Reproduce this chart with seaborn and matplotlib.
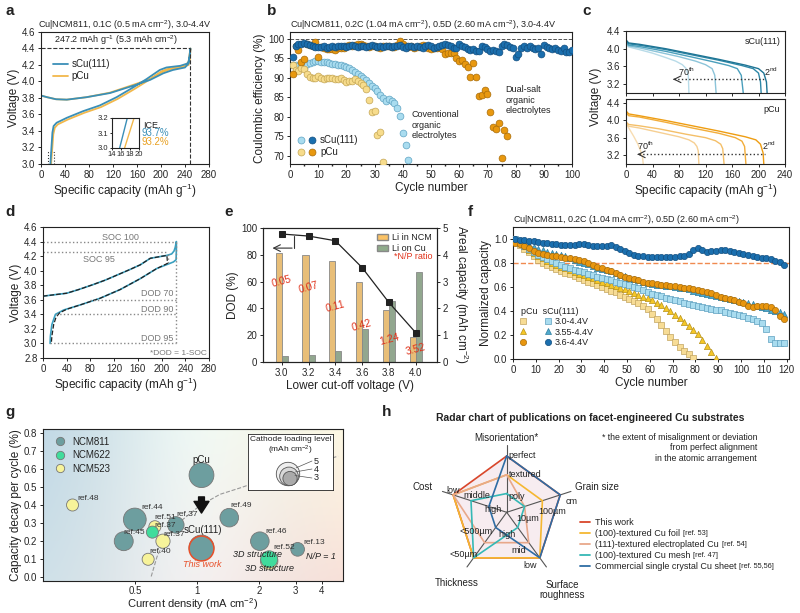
import numpy as np
import pandas as pd
import seaborn as sns
import matplotlib.pyplot as plt
from matplotlib.lines import Line2D
from matplotlib.patches import Patch, Rectangle, Circle
from matplotlib.legend_handler import HandlerTuple

# ---------------- data ----------------
# a: first cycle voltage profile
a_chg_cap = [0, 10, 25, 43, 76, 115, 154, 182, 204, 220, 240, 246, 249]
a_chg_v_s = [3.83, 3.81, 3.785, 3.78, 3.81, 3.86, 3.95, 4.02, 4.10, 4.14, 4.17, 4.22, 4.40]
a_chg_v_p = [3.83, 3.81, 3.785, 3.78, 3.81, 3.865, 3.96, 4.03, 4.12, 4.16, 4.19, 4.24, 4.40]
a_dis_cap_s = [249, 248, 245, 232, 209, 198, 176, 154, 126, 98, 70, 43, 26, 21, 19, 17.4, 15.7]
a_dis_cap_p = [249, 248.5, 246, 233, 210, 200, 178, 156, 128, 100, 72, 45, 28, 23, 20.5, 18.9, 16.8]
a_dis_v_s = [4.40, 4.30, 4.22, 4.19, 4.17, 4.14, 4.03, 3.93, 3.81, 3.71, 3.64, 3.56, 3.50, 3.46, 3.38, 3.20, 3.00]
a_dis_v_p = [4.40, 4.28, 4.20, 4.17, 4.15, 4.12, 4.01, 3.91, 3.79, 3.69, 3.62, 3.54, 3.48, 3.44, 3.36, 3.20, 3.00]
a_in_cap_s = [15.7, 17.4]
a_in_cap_p = [16.8, 18.9]
a_in_v = [3.0, 3.2]

# b: coulombic efficiency
b_conv_s = [93.4, 93.3, 93.1, 92.9, 92.6, 93.6, 93.9, 94.1, 94.3, 94.3, 94.2, 94.1, 94.0, 93.9,
            93.7, 93.5, 93.4, 93.2, 93.0, 92.8, 92.5, 92.1, 91.6, 91.0, 90.6, 90.0, 89.4, 88.6,
            87.9, 87.5, 86.6, 85.5, 84.9, 84.2, 84.6, 84.0, 83.6, 82.3, 80.3, 75.8, 72.7, 69.0]
b_conv_p = [93.3, 92.0, 91.8, 92.5, 92.2, 91.0, 90.3, 90.0, 90.0, 90.6, 90.0, 89.8, 89.9, 90.0,
            89.9, 89.7, 89.8, 90.0, 89.6, 89.0, 89.1, 89.3, 89.7, 89.1, 88.7, 88.3, 87.2, 84.4,
            81.2, 81.4, 75.3, 76.2, 68.3]
b_dual_s = [95.3, 98.3, 98.6, 98.8, 98.9, 98.7, 98.5, 98.2, 98.0, 97.9, 98.0, 98.1, 97.8, 98.0,
            98.2, 97.9, 98.1, 98.3, 98.2, 98.0, 98.2, 98.4, 98.1, 98.0, 98.3, 98.1, 97.9, 98.2,
            98.4, 98.1, 98.0, 98.2, 97.9, 98.1, 98.3, 98.0, 98.2, 98.1, 98.5, 98.0, 97.6, 98.1,
            98.3, 98.0, 98.2, 98.0, 97.8, 98.2, 98.4, 98.1, 97.7, 97.9, 98.2, 98.5, 98.6, 98.4,
            98.3, 97.8, 97.6, 98.7, 98.3, 97.9, 97.5, 97.1, 97.4, 96.8, 97.0, 98.2, 98.0, 97.5,
            97.0, 97.2, 97.0, 96.6, 98.2, 98.6, 98.4, 98.0, 97.8, 95.3, 96.1, 97.6, 98.2, 97.7,
            98.3, 97.6, 97.4, 97.7, 96.2, 98.5, 97.9, 97.6, 97.4, 97.8, 97.3, 96.9, 97.8, 96.7,
            96.6, 97.2]
b_dual_p = [91.0, 98.3, 97.3, 94.2, 94.8, 98.7, 98.5, 98.2, 99.3, 95.5, 98.0, 97.6, 97.5, 97.4,
            97.5, 97.3, 97.6, 97.8, 97.6, 98.1, 98.4, 98.3, 98.5, 98.7, 98.6, 98.4, 98.2, 98.0,
            98.3, 98.1, 98.0, 97.8, 98.2, 98.3, 98.1, 97.9, 98.0, 98.4, 99.4, 98.6, 98.2, 98.0,
            98.3, 97.8, 97.9, 98.2, 98.4, 98.1, 97.6, 97.4, 97.8, 97.6, 98.0, 97.5, 96.2, 96.4,
            96.5, 96.3, 95.2, 94.3, 94.7, 93.5, 92.8, 90.2, 93.8, 90.3, 85.3, 85.7, 87.0, 86.0,
            81.2, 77.5, 77.0, 78.5, 69.5, 76.7, 75.1]

# c: discharge curves, 2nd -> 70th cycle
c_s_cap = [[0, 4, 20, 60, 100, 140, 180, 200, 208, 212, 213],
           [0, 4, 20, 60, 100, 140, 175, 192, 200, 203, 204],
           [0, 4, 20, 60, 100, 130, 155, 168, 174, 177],
           [0, 4, 20, 50, 80, 105, 120, 130, 134, 136],
           [0, 4, 20, 40, 60, 75, 85, 91, 94, 95]]
c_s_v = [[4.20, 4.13, 4.10, 4.00, 3.88, 3.76, 3.63, 3.55, 3.45, 3.25, 3.0],
         [4.18, 4.11, 4.08, 3.98, 3.86, 3.74, 3.62, 3.55, 3.45, 3.25, 3.0],
         [4.15, 4.08, 4.05, 3.94, 3.81, 3.71, 3.62, 3.55, 3.40, 3.0],
         [4.12, 4.06, 4.02, 3.92, 3.82, 3.72, 3.64, 3.55, 3.40, 3.0],
         [4.10, 4.04, 3.98, 3.90, 3.80, 3.72, 3.64, 3.55, 3.40, 3.0]]
c_p_cap = [[0, 4, 20, 60, 100, 140, 180, 196, 203, 207, 208],
           [0, 4, 20, 60, 100, 140, 165, 175, 179, 181],
           [0, 4, 20, 50, 90, 120, 135, 143, 146, 148],
           [0, 4, 20, 50, 80, 95, 103, 107, 109, 110],
           [0, 5, 12, 18, 22, 25, 26]]
c_p_v = [[4.21, 4.14, 4.10, 3.99, 3.87, 3.75, 3.62, 3.55, 3.45, 3.25, 3.0],
         [4.17, 4.10, 4.07, 3.95, 3.82, 3.70, 3.60, 3.52, 3.40, 3.0],
         [3.96, 3.90, 3.87, 3.80, 3.68, 3.60, 3.53, 3.45, 3.35, 3.0],
         [3.92, 3.86, 3.82, 3.72, 3.62, 3.55, 3.48, 3.40, 3.30, 3.0],
         [3.92, 3.80, 3.62, 3.45, 3.30, 3.15, 3.0]]

# d: SOC / DOD illustration
d_cap = [0, 20, 40, 60, 85, 105, 125, 145, 164, 181, 195, 209, 217, 221, 223, 225, 225, 224.5,
         220, 214, 192, 164, 130, 96, 63, 35, 21, 15, 12.5, 12]
d_volt = [3.65, 3.67, 3.69, 3.74, 3.81, 3.87, 3.94, 4.01, 4.08, 4.17, 4.19, 4.21, 4.23, 4.27,
          4.32, 4.40, 4.30, 4.15, 4.12, 4.10, 4.03, 3.89, 3.74, 3.62, 3.53, 3.46, 3.40, 3.26,
          3.10, 3.00]
d_dash_cap = [0, 20, 40, 60, 85, 105, 125, 145, 164, 181, 195, 209, 210, 205, 192, 164, 130, 96,
              63, 40, 28, 22, 18, 15, 14]
d_dash_v = [3.65, 3.67, 3.69, 3.74, 3.81, 3.87, 3.94, 4.01, 4.08, 4.17, 4.19, 4.21, 4.10, 4.08,
            4.03, 3.89, 3.74, 3.62, 3.53, 3.47, 3.42, 3.36, 3.26, 3.10, 3.00]

# e: lower cut-off voltage
e_volts = ['3.0', '3.2', '3.4', '3.6', '3.8', '4.0']
e_li_ncm = [4.05, 4.00, 3.77, 3.00, 1.93, 0.92]
e_li_cu = [0.22, 0.27, 0.40, 1.22, 2.28, 3.37]
e_dod = [95.5, 94.0, 90.5, 70.5, 44.5, 22.0]
e_np = ['0.05', '0.07', '0.11', '0.42', '1.24', '3.52']
e_np_y = [60, 55.5, 41, 27.5, 17, 9]

# f: cycling at different voltage windows (every other cycle)
f_s36 = [1.00, 0.995, 0.99, 0.985, 0.98, 0.975, 0.97, 0.965, 0.96, 0.955, 0.952, 0.95, 0.948,
         0.947, 0.955, 0.96, 0.95, 0.94, 0.938, 0.94, 0.945, 0.952, 0.935, 0.915, 0.90, 0.885,
         0.87, 0.86, 0.855, 0.852, 0.85, 0.85, 0.848, 0.85, 0.852, 0.85, 0.855, 0.86, 0.875,
         0.905, 0.925, 0.905, 0.895, 0.90, 0.902, 0.905, 0.905, 0.90, 0.892, 0.882, 0.872,
         0.865, 0.86, 0.852, 0.845, 0.838, 0.83, 0.82, 0.81, 0.785]
f_p36 = [0.97, 0.955, 0.94, 0.925, 0.90, 0.885, 0.875, 0.87, 0.86, 0.855, 0.85, 0.845, 0.84,
         0.835, 0.825, 0.815, 0.80, 0.785, 0.77, 0.755, 0.745, 0.73, 0.715, 0.70, 0.685, 0.675,
         0.665, 0.655, 0.645, 0.635, 0.63, 0.625, 0.62, 0.615, 0.61, 0.605, 0.60, 0.595, 0.59,
         0.585, 0.575, 0.565, 0.555, 0.55, 0.535, 0.52, 0.51, 0.50, 0.49, 0.475, 0.465, 0.44,
         0.43, 0.44, 0.445, 0.44, 0.43, 0.41, 0.36, 0.33]
f_s355 = [1.00, 0.98, 0.965, 0.95, 0.935, 0.92, 0.905, 0.895, 0.885, 0.875, 0.865, 0.855, 0.84,
          0.825, 0.81, 0.80, 0.79, 0.775, 0.76, 0.75, 0.74, 0.73, 0.715, 0.70, 0.69, 0.675,
          0.665, 0.655, 0.645, 0.635, 0.625, 0.62, 0.615, 0.61, 0.605, 0.60, 0.595, 0.59, 0.58,
          0.57, 0.56, 0.55, 0.54, 0.535, 0.525, 0.515, 0.505, 0.50, 0.49, 0.485, 0.475, 0.465,
          0.455, 0.445, 0.435, 0.425, 0.41, 0.40, 0.39, 0.375]
f_s30 = [1.00, 0.97, 0.945, 0.92, 0.895, 0.87, 0.85, 0.83, 0.815, 0.80, 0.785, 0.77, 0.76,
         0.745, 0.735, 0.725, 0.71, 0.70, 0.685, 0.675, 0.665, 0.655, 0.645, 0.635, 0.625,
         0.615, 0.60, 0.59, 0.575, 0.56, 0.545, 0.535, 0.525, 0.51, 0.50, 0.49, 0.48, 0.47,
         0.46, 0.45, 0.44, 0.435, 0.425, 0.42, 0.41, 0.405, 0.395, 0.385, 0.375, 0.365, 0.355,
         0.345, 0.335, 0.32, 0.30, 0.25, 0.17, 0.13, 0.13, 0.13]
f_p355 = [0.99, 0.965, 0.94, 0.91, 0.885, 0.86, 0.84, 0.82, 0.80, 0.785, 0.77, 0.755, 0.74,
          0.725, 0.71, 0.70, 0.685, 0.675, 0.66, 0.645, 0.635, 0.62, 0.605, 0.59, 0.58, 0.565,
          0.55, 0.535, 0.52, 0.505, 0.49, 0.47, 0.45, 0.425, 0.40, 0.37, 0.34, 0.31, 0.275,
          0.24, 0.205, 0.16, 0.11, 0.06, 0.01]
f_p30 = [0.98, 0.95, 0.92, 0.89, 0.855, 0.825, 0.80, 0.78, 0.765, 0.75, 0.735, 0.72, 0.705,
         0.69, 0.675, 0.66, 0.645, 0.63, 0.615, 0.60, 0.585, 0.57, 0.555, 0.535, 0.52, 0.50,
         0.485, 0.465, 0.445, 0.42, 0.375, 0.33, 0.28, 0.23, 0.18, 0.14, 0.10, 0.07, 0.04, 0.01]

# g: literature comparison
g_label = ['ref.48', 'ref.44', 'ref.45', 'ref.51', 'ref.37a', 'ref.37b', 'ref.37c', 'ref.40',
           'pCu', 'sCu(111)', 'ref.49', 'ref.46', 'ref.52a', 'ref.52b', 'ref.13']
g_cathode = ['NCM523', 'NCM811', 'NCM811', 'NCM523', 'NCM622', 'NCM523', 'NCM811', 'NCM523',
             'NCM811', 'NCM811', 'NCM811', 'NCM811', 'NCM523', 'NCM622', 'NCM811']
g_current = [0.25, 0.50, 0.442, 0.625, 0.608, 0.684, 0.789, 0.58, 1.05, 1.05, 1.43, 2.01, 2.23,
             2.23, 3.06]
g_decay = [0.40, 0.32, 0.20, 0.28, 0.25, 0.20, 0.29, 0.10, 0.565, 0.165, 0.33, 0.20, 0.09, 0.10,
           0.155]
g_loading = [2.0, 4.6, 3.5, 2.0, 2.0, 2.4, 2.9, 2.0, 5.3, 5.3, 3.4, 3.4, 3.1, 3.0, 2.3]
g_trend_x = [0.60, 0.64, 0.71, 0.84, 1.03, 1.29, 1.62, 2.5, 4.8]
g_trend_y = [0.005, 0.114, 0.223, 0.314, 0.396, 0.459, 0.495, 0.57, 0.67]

# h: radar chart
h_axes = ['Misorientation*', 'Grain size', 'Surface\nroughness', 'Thickness', 'Cost']
h_series = ['This work', '(100)-textured Cu foil', '(111)-textured electroplated Cu',
            '(100)-textured Cu mesh', 'Commercial single crystal Cu sheet']
h_refs = ['', '[ref. 53]', '[ref. 54]', '[ref. 47]', '[ref. 55,56]']
h_levels = [[3, 3, 3, 3, 3], [2, 2, 3, 3, 3], [2, 1, 2, 2, 3], [1, 1, 1, 3, 2], [3, 3, 3, 1, 1]]
h_ticklabels = [['poly', 'textured', 'perfect'], ['10µm', '100µm', 'cm'],
                ['high', 'mid', 'low'], ['', '<500µm', '<50µm'], ['high', 'middle', 'low']]

# ---------------- style ----------------
sns.set_theme(style='ticks')
plt.rcParams['font.family'] = ['Liberation Sans', 'DejaVu Sans']
plt.rcParams.update({
    'mathtext.default': 'regular', 'axes.linewidth': 0.8, 'axes.edgecolor': '#222222',
    'xtick.labelsize': 7, 'ytick.labelsize': 7, 'axes.labelsize': 8.5,
    'xtick.major.size': 2.5, 'ytick.major.size': 2.5, 'xtick.minor.size': 1.5,
    'ytick.minor.size': 1.5, 'xtick.major.width': 0.7, 'ytick.major.width': 0.7,
    'xtick.major.pad': 1.5, 'ytick.major.pad': 1.5, 'axes.labelpad': 1.5,
    'text.color': '#222222', 'axes.labelcolor': '#222222',
})

W, H = 800, 613
fig = plt.figure(figsize=(8, 6.13), dpi=100)


def fax(l, t, r, b, **kw):
    return fig.add_axes([l / W, 1 - b / H, (r - l) / W, (b - t) / H], **kw)


def ftext(x, y, s, **kw):
    return fig.text(x / W, 1 - y / H, s, **kw)


def loop(x, y, ax, **kw):
    # ordered curve, no aggregation over repeated x
    sns.lineplot(x=x, y=y, sort=False, estimator=None, ax=ax, **kw)


for lab, x, y in [('a', 5, 11), ('b', 267, 11), ('c', 582, 11), ('d', 5, 212),
                  ('e', 224, 212), ('f', 468, 212), ('g', 5, 412), ('h', 382, 412)]:
    ftext(x, y, lab, fontsize=11, weight='bold', va='center')

BLUE, ORANGE = '#3a8fb7', '#f2b84b'

# ---------------- a ----------------
ax = fax(41, 32, 209, 164)
loop(a_chg_cap + a_dis_cap_p, a_chg_v_p + a_dis_v_p, ax, color=ORANGE, lw=1.3, label='pCu')
loop(a_chg_cap + a_dis_cap_s, a_chg_v_s + a_dis_v_s, ax, color=BLUE, lw=1.3, label='sCu(111)')
ax.plot([0, 249], [4.4, 4.4], ls='--', color='#333', lw=0.8)
ax.plot([249, 249], [3.0, 4.4], ls='--', color='#333', lw=0.8)
ax.text(125, 4.47, '247.2 mAh g$^{-1}$ (5.3 mAh cm$^{-2}$)', fontsize=6.5, ha='center')
ax.add_patch(Rectangle((12, 3.0), 9, 0.15, fill=False, ls=':', lw=0.8, ec='#333'))
ax.set(xlim=(0, 280), ylim=(3.0, 4.6), xticks=range(0, 281, 40),
       xlabel='Specific capacity (mAh g$^{-1}$)', ylabel='Voltage (V)')
ax.set_yticks(np.arange(3.0, 4.61, 0.2))
ax.set_title('Cu|NCM811, 0.1C (0.5 mA cm$^{-2}$), 3.0-4.4V', fontsize=6.5, pad=3)
hnd, lbl = ax.get_legend_handles_labels()
ax.legend(hnd[::-1], lbl[::-1], loc='upper left', bbox_to_anchor=(0.02, 0.86), frameon=False,
          fontsize=7, handlelength=1.5, handletextpad=0.4, labelspacing=0.2)
ax.text(170, 3.47, 'ICE.', fontsize=6.5, va='center')
ax.text(167, 3.375, '93.7%', fontsize=7, color=BLUE, va='center')
ax.text(167, 3.27, '93.2%', fontsize=7, color='#e8a020', va='center')

axi = fax(112, 118, 139, 148)
sns.lineplot(x=a_in_cap_s, y=a_in_v, color=BLUE, lw=1, ax=axi)
sns.lineplot(x=a_in_cap_p, y=a_in_v, color=ORANGE, lw=1, ax=axi)
axi.set(xlim=(14, 20), ylim=(3.0, 3.2), xticks=[14, 16, 18, 20], yticks=[3.0, 3.1, 3.2])
axi.tick_params(labelsize=5.5, length=1.5, pad=1)
axi.yaxis.set_major_formatter('{x:.1f}')

# ---------------- b ----------------
ax = fax(290, 32, 572, 164)
ax.axhline(100, ls='--', color='#555', lw=0.7)
ser_b = [(b_conv_s, '#a9dcef', '#5fa3c3'), (b_conv_p, '#f7dc8c', '#c4a655'),
         (b_dual_p, '#e8980f', '#a86c0a'), (b_dual_s, '#1b6fae', '#134f80')]
for vals, fc, ec in ser_b:
    sns.scatterplot(x=range(1, len(vals) + 1), y=vals, color=fc, edgecolor=ec, s=24,
                    linewidth=0.5, ax=ax, zorder=3)
ax.set(xlim=(0, 100), ylim=(67.9, 101.8), xticks=range(0, 101, 10), yticks=range(70, 101, 5),
       xlabel='Cycle number', ylabel='Coulombic efficiency (%)')
ax.set_xticks(range(5, 100, 10), minor=True)
ax.set_title('Cu|NCM811, 0.2C (1.04 mA cm$^{-2}$), 0.5D (2.60 mA cm$^{-2}$), 3.0-4.4V',
             fontsize=6.5, pad=3, loc='left')
ax.text(43, 81.8, 'Coventional\norganic\nelectrolytes', fontsize=6.5, va='top', linespacing=1.25)
ax.text(76.5, 88.2, 'Dual-salt\norganic\nelectrolytes', fontsize=6.5, va='top', linespacing=1.25)
mk = dict(marker='o', ls='', markersize=5, markeredgewidth=0.5)
hs = (Line2D([], [], mfc='#a9dcef', mec='#5fa3c3', **mk), Line2D([], [], mfc='#1b6fae', mec='#134f80', **mk))
hp = (Line2D([], [], mfc='#f7dc8c', mec='#c4a655', **mk), Line2D([], [], mfc='#e8980f', mec='#a86c0a', **mk))
ax.legend([hs, hp], ['sCu(111)', 'pCu'], handler_map={tuple: HandlerTuple(ndivide=None, pad=0.2)},
          loc='lower left', frameon=False, fontsize=7, handlelength=2, handletextpad=0.4,
          labelspacing=0.2, borderaxespad=0.3)

# ---------------- c ----------------
c_s_col = ['#1e7494', '#2e88a8', '#4a9fbc', '#8cc4d9', '#b8dbe8']
c_p_col = ['#ee9d12', '#f2ad3a', '#f4bf68', '#f6cf92', '#f8ddb2']
axt = fax(626, 31, 785, 93)
axb = fax(626, 99, 785, 164)
for cap, v, col in zip(c_s_cap[::-1], c_s_v[::-1], c_s_col[::-1]):
    loop(cap, v, axt, color=col, lw=1)
for cap, v, col in zip(c_p_cap[::-1], c_p_v[::-1], c_p_col[::-1]):
    loop(cap, v, axb, color=col, lw=1)
axt.set(xlim=(0, 240), ylim=(3.0, 4.4), yticks=[3.2, 3.6, 4.0, 4.4], xticks=range(0, 241, 40))
axt.tick_params(labelbottom=False)
axb.set(xlim=(0, 240), ylim=(3.0, 4.48), yticks=[3.2, 3.6, 4.0, 4.4], xticks=range(0, 241, 40),
        xlabel='Specific capacity (mAh g$^{-1}$)')
for a_, lab, yy, y2, x70, xe in [(axt, 'sCu(111)', 3.31, 3.48, 91, 212), (axb, 'pCu', 3.22, 3.42, 29, 210)]:
    a_.text(0.97, 0.9, lab, transform=a_.transAxes, ha='right', va='top', fontsize=6.5)
    xs = x70 - 20 if lab == 'sCu(111)' else x70 - 12
    a_.plot([xs + 2, xe], [yy, yy], ls=':', color='#333', lw=1)
    a_.annotate('', xy=(xs, yy), xytext=(xs + 6, yy),
                arrowprops=dict(arrowstyle='->', color='#333', lw=0.8))
    a_.text(x70, y2, '70$^{th}$', fontsize=6.5, ha='center', va='center')
    a_.text(xe + 6, y2, '2$^{nd}$', fontsize=6.5, ha='center', va='center')
ftext(596, 97, 'Voltage (V)', rotation=90, fontsize=8.5, ha='center', va='center')

# ---------------- d ----------------
ax = fax(43, 227, 209, 358)
loop(d_cap, d_volt, ax, color='#3aa0c0', lw=1.2)
loop(d_dash_cap, d_dash_v, ax, color='#222', lw=0.9, ls='--')
gk = dict(ls=':', color='#888', lw=1)
ax.plot([0, 225], [4.4, 4.4], **gk)
ax.plot([0, 210], [4.25, 4.25], **gk)
ax.plot([80, 225], [3.6, 3.6], **gk)
ax.plot([22, 225], [3.4, 3.4], **gk)
ax.plot([12, 225], [3.0, 3.0], **gk)
ax.plot([225, 225], [3.0, 4.4], **gk)
ax.plot([210, 210], [4.1, 4.25], **gk)
tk = dict(fontsize=6.5, color='#777', ha='center', va='center')
ax.text(130, 4.46, 'SOC 100', **tk)
ax.text(94, 4.16, 'SOC 95', **tk)
ax.text(192, 3.68, 'DOD 70', **tk)
ax.text(192, 3.47, 'DOD 90', **tk)
ax.text(192, 3.07, 'DOD 95', **tk)
ax.text(276, 2.86, '*DOD = 1-SOC', fontsize=6, color='#777', ha='right', va='center')
ax.set(xlim=(0, 280), ylim=(2.8, 4.6), xticks=range(0, 281, 40),
       xlabel='Specific capacity (mAh g$^{-1}$)', ylabel='Voltage (V)')
ax.set_yticks(np.arange(2.8, 4.61, 0.2))

# ---------------- e ----------------
ax = fax(263, 228, 437, 362)
edf = pd.DataFrame({'volt': e_volts * 2, 'cap': e_li_ncm + e_li_cu,
                    'kind': ['Li in NCM'] * 6 + ['Li on Cu'] * 6})
sns.barplot(data=edf, x='volt', y='cap', hue='kind', order=e_volts,
            palette={'Li in NCM': '#fbc265', 'Li on Cu': '#8fab8b'}, width=0.45,
            edgecolor='#888', linewidth=0.6, ax=ax, legend=False)
ax.set(ylim=(0, 5), xlim=(-0.7, 5.8), yticks=range(0, 6), xlabel='Lower cut-off voltage (V)')
axl = ax.twinx()
ax.yaxis.tick_right()
ax.yaxis.set_label_position('right')
ax.set_ylabel('Areal capacity (mAh cm$^{-2}$)', rotation=270, va='bottom', labelpad=3)
sns.lineplot(x=np.arange(len(e_volts)), y=e_dod, color='#222', marker='s', markersize=5,
             lw=0.9, ax=axl, markeredgecolor='#222')
axl.set(ylim=(0, 100), yticks=range(0, 101, 20))
axl.yaxis.tick_left()
axl.yaxis.set_label_position('left')
axl.set_ylabel('DOD (%)')
axl.plot([0.47, 0.47], [93.7, 85], color='#333', lw=0.8)
axl.annotate('', xy=(-0.45, 85), xytext=(0.49, 85), arrowprops=dict(arrowstyle='->', color='#333', lw=0.8))
for i, (t, yv) in enumerate(zip(e_np, e_np_y)):
    axl.text(i, yv, t, color='#e0321a', fontsize=7.5, rotation=15, ha='center', va='center')
axl.legend([Patch(fc='#fbc265', ec='#888'), Patch(fc='#8fab8b', ec='#888')],
           ['Li in NCM', 'Li on Cu'], loc='upper right', frameon=False, fontsize=6.5,
           handlelength=1.2, handleheight=0.7, handletextpad=0.4, labelspacing=0.2,
           borderaxespad=0.2)
axl.text(5.65, 78.5, '*N/P ratio', color='#e0321a', fontsize=6.5, ha='right', va='center')

# ---------------- f ----------------
ax = fax(513, 227, 789, 359)
ax.axhline(0.8, ls='--', color='#f08a50', lw=1)
ser_f = [(f_p30, 's', '#f7dc95', '#c2a460'), (f_p355, '^', '#f5c727', '#b8921a'),
         (f_s30, 's', '#a9dcef', '#5ea0c0'), (f_s355, '^', '#4fa9cc', '#2e7ea0'),
         (f_p36, 'o', '#e8960f', '#a86c0a'), (f_s36, 'o', '#1b6fae', '#134f80')]
for vals, m, fc, ec in ser_f:
    sns.scatterplot(x=range(1, 2 * len(vals), 2), y=vals, marker=m, color=fc, edgecolor=ec,
                    s=20, linewidth=0.5, ax=ax, zorder=3)
ax.set(xlim=(0, 121), ylim=(0, 1.1), xticks=range(0, 121, 10), yticks=np.arange(0, 1.01, 0.2),
       xlabel='Cycle number', ylabel='Normalized capacity')
ax.yaxis.set_major_formatter('{x:.1f}')
ax.set_title('Cu|NCM811, 0.2C (1.04 mA cm$^{-2}$), 0.5D (2.60 mA cm$^{-2}$)', fontsize=6.5,
             pad=3, loc='left')
mf = dict(ls='', markersize=4.5, markeredgewidth=0.5)
fh = []
for (_, m1, fc1, ec1), (_, m2, fc2, ec2) in zip([ser_f[0], ser_f[1], ser_f[4]],
                                              [ser_f[2], ser_f[3], ser_f[5]]):
    fh.append((Line2D([], [], marker=m1, mfc=fc1, mec=ec1, **mf),
               Line2D([], [], marker=m2, mfc=fc2, mec=ec2, **mf)))
ax.legend(fh, ['3.0-4.4V', '3.55-4.4V', '3.6-4.4V'], title='pCu  sCu(111)',
          handler_map={tuple: HandlerTuple(ndivide=None, pad=2.2)}, loc='lower left',
          bbox_to_anchor=(0.0, 0.03), frameon=False, fontsize=6.5, title_fontsize=6.5,
          handlelength=3.2, handletextpad=0.5, labelspacing=0.15, alignment='left')

# ---------------- g ----------------
ax = fax(43, 429, 343, 581)
tl, tr = np.array([0.76, 0.85, 0.90]), np.array([0.99, 0.97, 0.89])
bl, br = np.array([0.81, 0.88, 0.91]), np.array([0.97, 0.88, 0.85])
u = np.linspace(0, 1, 120)[None, :, None]
v = np.linspace(0, 1, 60)[:, None, None]
grad = (1 - v) * ((1 - u) * tl + u * tr) + v * ((1 - u) * bl + u * br)
grad = grad + 0.06 * np.exp(-((u - 0.5) ** 2) / 0.08)
ax.imshow(np.clip(grad, 0, 1), extent=(0, 1, 0, 1), transform=ax.transAxes, aspect='auto', zorder=0)
sns.lineplot(x=g_trend_x, y=g_trend_y, color='#999', ls='--', lw=0.8, ax=ax, zorder=1)
gdf = pd.DataFrame({'label': g_label, 'cathode': g_cathode, 'current': g_current,
                    'decay': g_decay, 'loading': g_loading})
g_pal = {'NCM811': '#6d9e9f', 'NCM622': '#40dc9c', 'NCM523': '#f7f39a'}
sns.scatterplot(data=gdf, x='current', y='decay', hue='cathode', size='loading', palette=g_pal,
                sizes=(75, 320), size_norm=(2.0, 5.3), edgecolor='#777', linewidth=0.6,
                legend=False, ax=ax, zorder=3)
this = gdf[gdf.label == 'sCu(111)']
sns.scatterplot(data=this, x='current', y='decay', size='loading', sizes=(320, 320),
                color='#6d9e9f', edgecolor='#e8502a', linewidth=1.1, legend=False, ax=ax, zorder=4)
ax.set_xscale('log')
ax.set(xlim=(0.18, 5.07), ylim=(-0.02, 0.82), yticks=np.arange(0, 0.81, 0.1),
       ylabel='Capacity decay per cycle (%)')
ax.set_xlabel('Current density (mA cm$^{-2}$)', labelpad=0.5, fontsize=8)
ax.set_xticks([0.5, 1, 2, 3, 4])
ax.set_xticklabels(['0.5', '1', '2', '3', '4'])
ax.tick_params(axis='x', pad=1)
ax.xaxis.set_minor_locator(plt.NullLocator())
ax.yaxis.set_major_formatter('{x:.1f}')
rk = dict(fontsize=6, color='#333', zorder=5)
for t, x, y in [('ref.48', 0.265, 0.437), ('ref.44', 0.537, 0.386), ('ref.45', 0.442, 0.25),
                ('ref.51', 0.62, 0.329), ('ref.37', 0.62, 0.288), ('ref.37', 0.69, 0.238),
                ('ref.40', 0.585, 0.145), ('ref.37', 0.79, 0.35), ('ref.49', 1.45, 0.396),
                ('ref.46', 2.13, 0.256), ('ref.52', 2.33, 0.165), ('ref.13', 3.28, 0.193)]:
    ax.text(x, y, t, va='center', **rk)
ax.text(1.05, 0.65, 'pCu', ha='center', va='center', fontsize=7)
ax.text(1.07, 0.26, 'sCu(111)', ha='center', va='center', fontsize=7)
ax.text(1.06, 0.073, 'This work', ha='center', va='center', fontsize=6.5, color='#e8502a', style='italic')
ax.text(1.95, 0.125, '3D structure', ha='center', va='center', fontsize=6.5, style='italic', zorder=5)
ax.text(2.23, 0.047, '3D structure', ha='center', va='center', fontsize=6.5, style='italic', zorder=5)
ax.text(3.95, 0.114, 'N/P = 1', ha='center', va='center', fontsize=6.5, style='italic')
ax.annotate('', xy=(1.05, 0.34), xytext=(1.05, 0.46),
            arrowprops=dict(arrowstyle='simple,head_width=0.9,head_length=0.7,tail_width=0.35',
                            color='#111'))
gm = dict(marker='o', ls='', markersize=6, markeredgecolor='#777', markeredgewidth=0.6)
ax.legend([Line2D([], [], mfc=g_pal[k], **gm) for k in g_pal], list(g_pal), loc='upper left',
          frameon=False, fontsize=7, handletextpad=0.2, labelspacing=0.35, borderaxespad=0.4)

axg = fax(248, 434, 333, 490)
axg.set(xlim=(0, 85), ylim=(56, 0), xticks=[], yticks=[])
for s_ in axg.spines.values():
    s_.set_linewidth(0.6)
axg.text(42.5, 2, 'Cathode loading level', ha='center', va='top', fontsize=6)
axg.text(42.5, 10, '(mAh cm$^{-2}$)', ha='center', va='top', fontsize=6)
for (cx, cy, r, fc), lab, ly in zip([(40, 40, 11.7, '#eeeeee'), (41, 42.4, 9.3, '#d8d8d8'),
                                     (42, 44.5, 7.1, '#aaaaaa')], ['5', '4', '3'], [27, 35, 44]):
    axg.add_patch(Circle((cx, cy), r, fc=fc, ec='#555', lw=0.6))
    axg.plot([cx + r * 0.7, 64], [cy - r * 0.7 + 2, ly], color='#555', lw=0.5)
    axg.text(66, ly, lab, fontsize=6.5, va='center')

# ---------------- h ----------------
h_theta = np.deg2rad([90, 18, -54, -126, 162])
R = 56.3
axh = fig.add_axes([(506.7 - 1.3 * R) / W, 1 - (512.3 + 1.3 * R) / H, 2.6 * R / W, 2.6 * R / H],
                   projection='polar')
axh.axis('off')
axh.set_ylim(0, 1.3)
for th in h_theta:
    axh.plot([th, th], [0, 1.2], color='#555', lw=0.8, zorder=1)
h_cols = ['#d9472b', '#f5b731', '#e8a88a', '#35b8b5', '#2e6da4']
th_c = np.append(h_theta, h_theta[0])
for lev, col in zip(h_levels, h_cols):
    r = np.array(lev + lev[:1]) / 3
    axh.plot(th_c, r, color=col, lw=1.2, zorder=2)
r0 = np.array(h_levels[0] + h_levels[0][:1]) / 3
axh.fill(th_c, r0, color='#f2dde4', alpha=0.55, zorder=0)
h_off = [[(1.5, -2), (1.5, 0), (1.5, 0)], [(2.6, -8.4), (7, -7.5), (8, -5)],
         [(-7.5, -4.8), (-7.5, -6), (-7, -5.5)], [(0, 0), (-6.5, 8), (-7.5, 2.6)],
         [(3, -2), (4, 4), (0, 3)]]
for th, labs, offs in zip(h_theta, h_ticklabels, h_off):
    for k, (lab, off) in enumerate(zip(labs, offs)):
        if not lab:
            continue
        ha = 'left' if th == h_theta[0] else 'center'
        axh.annotate(lab, xy=(th, (k + 1) / 3), xytext=off, textcoords='offset points',
                     ha=ha, va='center', fontsize=6.5, zorder=5)
for lab, (x, y) in zip(h_axes, [(506.7, 438.3), (596.7, 486.7), (562.3, 590), (456.7, 583.3),
                                (422.3, 487.3)]):
    ftext(x, y, lab, ha='center', va='center', fontsize=7, linespacing=1.1)
ftext(590, 418, 'Radar chart of publications on facet-engineered Cu substrates', ha='center',
      va='center', fontsize=7.5, weight='bold')
ftext(757, 448, '* the extent of misalignment or deviation\nfrom perfect alignment\nin the atomic arrangement',
      ha='right', va='center', fontsize=6.3, linespacing=1.2)
for i, (name, ref, col) in enumerate(zip(h_series, h_refs, h_cols)):
    y = 522.3 + i * 11
    fig.add_artist(Line2D([580 / W, 590 / W], [1 - y / H, 1 - y / H], color=col, lw=1.3))
    t = ftext(595, y, name, fontsize=6.5, va='center')
    if ref:
        plt.annotate(ref, xy=(1, 0.5), xycoords=t, xytext=(2, 0), textcoords='offset points',
                     fontsize=5.3, va='center', annotation_clip=False)

fig.savefig('out.png', dpi=100)
